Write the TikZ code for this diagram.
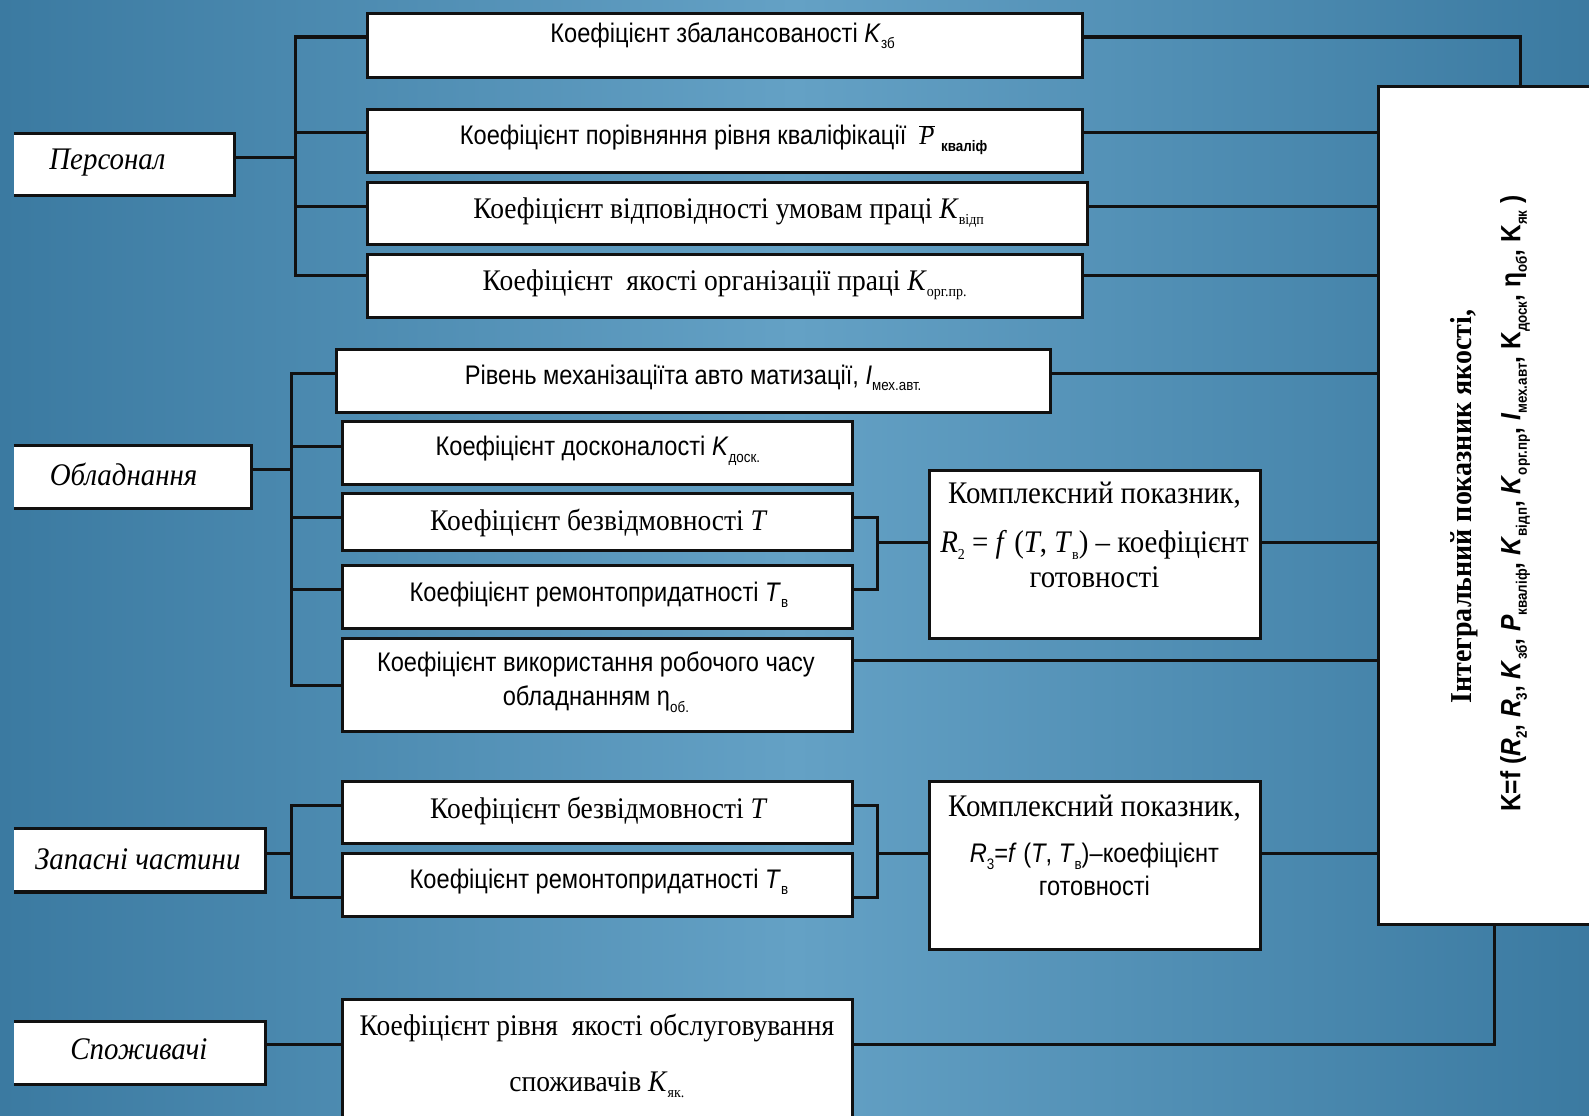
\documentclass[tikz,border=0pt]{standalone}
\usepackage{fontspec}
\setmainfont{Liberation Serif}
\newfontfamily\sn[FakeStretch=0.88]{Liberation Sans}
\newfontfamily\sr[FakeStretch=0.92]{Liberation Serif}
\usetikzlibrary{fit}
\definecolor{bgdark}{HTML}{3B7AA1}
\definecolor{bglight}{HTML}{64A1C5}
\definecolor{ln}{HTML}{111111}
\newcommand\lsub[1]{\raisebox{-0.45ex}{\fontsize{15}{15}\selectfont #1}}
\tikzset{
 box/.style={draw=ln, fill=white, line width=3pt, inner sep=0pt},
 lbox/.style={fill=white, inner sep=0pt},
 conn/.style={draw=ln, line width=3pt},
 sanst/.style={font=\sn\fontsize{26.5}{30}\selectfont, inner sep=0pt, align=center},
 sert/.style={font=\sr\fontsize{29.5}{32}\selectfont, inner sep=0pt, align=center},
 rsert/.style={font=\sr\fontsize{31}{34}\selectfont, inner sep=0pt, align=center},
 cat/.style={font=\sr\itshape\fontsize{31}{34}\selectfont, inner sep=0pt},
}
\begin{document}
\begin{tikzpicture}[x=1pt,y=-1pt]
\useasboundingbox (0,0) rectangle (1568,1101);
\shade[left color=bgdark, right color=bgdark, middle color=bglight] (0,0) rectangle (1568,1101);

% ---------- left category boxes ----------
\node[lbox, fit={(14,132)(231,193)}] (pers) {};
\node[lbox, fit={(14,440)(248,502)}] (obl) {};
\node[lbox, fit={(14,818)(262,880)}] (zap) {};
\node[lbox, fit={(14,1008)(262,1070)}] (spo) {};
\foreach \n in {pers,obl,zap,spo}{
  \draw[conn] (\n.north west) -- (\n.north east) -- (\n.south east) -- (\n.south west);
}
\node[cat] (tpers) at (106,160) {Персонал};
\node[cat] (tobl) at (122,468) {Обладнання};
\node[cat] (tzap) at (136,848) {Запасні частини};
\node[cat] (tspo) at (137,1035) {Споживачі};

% ---------- Персонал ----------
\node[box, fit={(363,13)(1068,76)}] (k1) {};
\node[box, fit={(363,108)(1068,170)}] (k2) {};
\node[box, fit={(363,180)(1073,241)}] (k3) {};
\node[box, fit={(363,251)(1068,313)}] (k4) {};
\node[sanst] (t1) at (713,35) {Коефіцієнт збалансованості \textit{K}\lsub{зб}};
\node[sanst] (t2) at (714,138) {Коефіцієнт порівняння рівня кваліфікації \ \(\overline{\mbox{\sr\itshape P}}\)\ \lsub{\bfseries кваліф}};
\node[sert] (t3) at (719,210) {Коефіцієнт відповідності умовам праці \textit{K}\lsub{відп}};
\node[sert] (t4) at (715,281) {Коефіцієнт \ якості організації праці \textit{K}\lsub{орг.пр.}};

% ---------- Обладнання ----------
\node[box, fit={(332,345)(1037,407)}] (k5) {};
\node[box, fit={(338,416)(841,478)}] (k6) {};
\node[box, fit={(338,487)(841,543)}] (k7) {};
\node[box, fit={(338,558)(841,620)}] (k8) {};
\node[box, fit={(338,630)(841,722)}] (k9) {};
\node[sanst] (t5) at (684,373) {Рівень механізаціїта авто матизації, \textit{I}\lsub{мех.авт.}};
\node[sanst] (t6) at (590,445) {Коефіцієнт досконалості \textit{K}\lsub{доск.}};
\node[sert] (t7) at (591,516) {Коефіцієнт безвідмовності \textit{T}};
\node[sanst] (t8) at (591,587) {Коефіцієнт ремонтопридатності \textit{T}\lsub{в}};
\node[sanst] (t9a) at (588,656) {Коефіцієнт використання робочого часу};
\node[sanst] (t9b) at (588,690) {обладнанням η\lsub{об.}};

\node[box, fit={(917,464)(1244,630)}] (r2) {};
\node[rsert] (r2a) at (1080,489) {Комплексний показник,};
\node[rsert] (r2b) at (1080,538) {\textit{R}\lsub{2} = \textit{f} (\textit{T}, \textit{T}\lsub{в}) – коефіцієнт};
\node[rsert] (r2c) at (1080,570) {готовності};

% ---------- Запасні частини ----------
\node[box, fit={(338,771)(841,832)}] (k10) {};
\node[box, fit={(338,842)(841,904)}] (k11) {};
\node[sert] (t10) at (591,800) {Коефіцієнт безвідмовності \textit{T}};
\node[sanst] (t11) at (591,870) {Коефіцієнт ремонтопридатності \textit{T}\lsub{в}};

\node[box, fit={(917,771)(1244,937)}] (r3) {};
\node[rsert] (r3a) at (1080,797) {Комплексний показник,};
\node[sanst] (r3b) at (1080,845) {\textit{R}\lsub{3}=\textit{f} (\textit{T}, \textit{T}\lsub{в})–коефіцієнт};
\node[sanst] (r3c) at (1080,874) {готовності};

% ---------- Споживачі ----------
\node[box, fit={(338,986)(841,1115)}] (k12) {};
\node[sert] (t12a) at (589,1014) {Коефіцієнт рівня \ якості обслуговування};
\node[sert] (t12b) at (589,1070) {споживачів \textit{K}\lsub{як.}};

% ---------- integral box ----------
\node[box, fit={(1360,85)(1600,912)}] (big) {};
\node[font=\sr\bfseries\fontsize{30}{32}\selectfont, rotate=90, inner sep=0pt] (bg1) at (1445,500) {Інтегральний показник якості,};
\node[font=\sn\bfseries\fontsize{27.5}{30}\selectfont, rotate=90, inner sep=0pt] (bg2) at (1495,497)
 {K=f (\textit{R}\lsub{2}, \textit{R}\lsub{3}, \textit{K}\lsub{зб}, \textit{P}\lsub{кваліф}, \textit{K}\lsub{відп}, \textit{K}\lsub{орг.пр}, \textit{I}\lsub{мех.авт}, K\lsub{доск}, η\lsub{об}, K\lsub{як} )};

% ---------- connectors: Персонал ----------
\coordinate (pbus) at (292,0);
\draw[conn] ([yshift=8pt]k1.west) -- ([yshift=8pt]k1.west -| pbus) -- ([yshift=10pt]k4.west -| pbus) -- ([yshift=10pt]k4.west);
\draw[conn] ([yshift=8pt]k2.west -| pbus) -- ([yshift=8pt]k2.west);
\draw[conn] ([yshift=7pt]k3.west -| pbus) -- ([yshift=7pt]k3.west);
\draw[conn] ([yshift=7pt]pers.east) -- ([yshift=7pt]pers.east -| pbus);

\coordinate (topj) at (1500,0);
\draw[conn] ([yshift=8pt]k1.east) -- ([yshift=8pt]k1.east -| topj) -- (topj |- big.north);
\draw[conn] ([yshift=8pt]k2.east) -- ([yshift=8pt]k2.east -| big.west);
\draw[conn] ([yshift=7pt]k3.east) -- ([yshift=7pt]k3.east -| big.west);
\draw[conn] ([yshift=10pt]k4.east) -- ([yshift=10pt]k4.east -| big.west);

% ---------- connectors: Обладнання ----------
\coordinate (obus) at (288,0);
\draw[conn] ([yshift=7pt]k5.west) -- ([yshift=7pt]k5.west -| obus) -- (k9.west -| obus) -- (k9.west);
\draw[conn] ([yshift=6pt]k6.west -| obus) -- ([yshift=6pt]k6.west);
\draw[conn] ([yshift=4pt]k7.west -| obus) -- ([yshift=4pt]k7.west);
\draw[conn] ([yshift=7pt]k8.west -| obus) -- ([yshift=7pt]k8.west);
\draw[conn] ([yshift=8pt]obl.east) -- ([yshift=8pt]obl.east -| obus);
\draw[conn] ([yshift=7pt]k5.east) -- ([yshift=7pt]k5.east -| big.west);

\coordinate (obr) at (866,0);
\draw[conn] ([yshift=4pt]k7.east) -- ([yshift=4pt]k7.east -| obr) -- ([yshift=7pt]k8.east -| obr) -- ([yshift=7pt]k8.east);
\draw[conn] ([yshift=12pt]r2.west -| obr) -- ([yshift=12pt]r2.west);
\draw[conn] ([yshift=12pt]r2.east) -- ([yshift=12pt]r2.east -| big.west);
\draw[conn] ([yshift=24pt]k9.east) -- ([yshift=24pt]k9.east -| big.west);

% ---------- connectors: Запасні частини ----------
\draw[conn] ([yshift=6.5pt]k10.west) -- ([yshift=6.5pt]k10.west -| obus) -- ([yshift=-13pt]k11.west -| obus) -- ([yshift=-13pt]k11.west);
\draw[conn] ([yshift=7pt]zap.east) -- ([yshift=7pt]zap.east -| obus);
\draw[conn] ([yshift=6.5pt]k10.east) -- ([yshift=6.5pt]k10.east -| obr) -- ([yshift=-13pt]k11.east -| obr) -- ([yshift=-13pt]k11.east);
\draw[conn] ([yshift=12pt]r3.west -| obr) -- ([yshift=12pt]r3.west);
\draw[conn] ([yshift=12pt]r3.east) -- ([yshift=12pt]r3.east -| big.west);

% ---------- connectors: Споживачі ----------
\coordinate (botj) at (1475,0);
\draw[conn] ([yshift=8pt]spo.east) -- ([yshift=8pt]spo.east -| k12.west);
\draw[conn] ([yshift=8pt]spo.east -| k12.east) -- ([yshift=8pt]spo.east -| botj) -- (botj |- big.south);
\end{tikzpicture}
\end{document}
